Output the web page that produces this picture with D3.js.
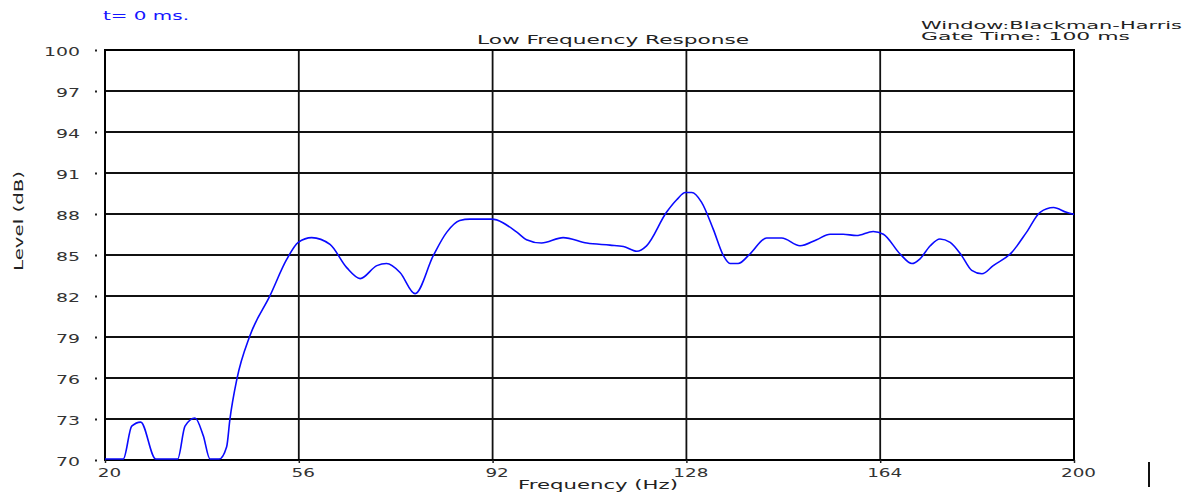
<!DOCTYPE html>
<html>
<head>
<meta charset="utf-8">
<script src="https://cdn.jsdelivr.net/npm/d3@7"></script>
<style>
  body { margin: 0; background: #fff; }
  text { font-family: "DejaVu Sans", sans-serif; }
</style>
</head>
<body>
<div id="chart"></div>
<script>
// frequency (Hz) and level (dB)
var freq = [20, 23.4, 24.96, 26.63, 29.42, 33.5, 34.86, 36.72, 38.26, 39.5, 41.2, 42.6, 43.2, 44.5, 46.9,
  50.65, 53.75, 55.9, 58.4, 61.8, 64.9, 67.4, 70.5, 72.3, 74.8, 77.6, 81.0, 83.5, 85.9, 87.8, 91.8,
  96.5, 98.3, 101.1, 105.1, 109.5, 113.8, 116.3, 118.8, 120.6, 124.3, 126.2, 127.8, 129.0, 130.8,
  133.0, 134.85, 136.1, 137.6, 139.8, 142.9, 145.7, 149.1, 152.2, 154.7, 157.1, 159.6, 162.7, 164.6,
  167.7, 169.9, 171.4, 173.3, 175.1, 177.0, 179.1, 181.0, 182.9, 185.0, 188.4, 191.2, 193.7, 196.2,
  198.6, 200];
var level = [70, 70, 72.4, 72.7, 70, 70, 72.4, 73.0, 71.7, 70, 70, 70.9, 72.9, 75.85, 79.0,
  81.95, 84.6, 85.85, 86.2, 85.7, 84.0, 83.2, 84.15, 84.3, 83.65, 82.1, 84.9, 86.6, 87.45, 87.55, 87.55,
  86.6, 86.05, 85.8, 86.2, 85.8, 85.65, 85.55, 85.2, 85.6, 88.05, 88.97, 89.5, 89.5, 88.8,
  86.8, 84.9, 84.3, 84.3, 85.0, 86.17, 86.17, 85.6, 86.05, 86.45, 86.45, 86.35, 86.65, 86.45,
  85.0, 84.3, 84.65, 85.6, 86.1, 85.85, 84.9, 83.8, 83.55, 84.15, 85.1, 86.6, 88.05, 88.4,
  88.05, 87.9];

var xTicks = [20, 56, 92, 128, 164, 200];
var yTicks = [70, 73, 76, 79, 82, 85, 88, 91, 94, 97, 100];

drawChart();

function drawChart() {
  var width = 1194, height = 496;
  var plotLeft = 105, plotRight = 1074, plotTop = 50, plotBottom = 460;
  var charW = 12; // the original font is very wide

  var svg = d3.select("#chart").append("svg")
    .attr("width", width)
    .attr("height", height);

  var x = d3.scaleLinear().domain([20, 200]).range([plotLeft, plotRight]);
  var y = d3.scaleLinear().domain([70, 100]).range([plotBottom, plotTop]);

  // grid
  svg.append("g")
    .selectAll("line")
    .data(yTicks)
    .enter().append("line")
      .attr("x1", plotLeft).attr("x2", plotRight)
      .attr("y1", function(d){ return y(d); })
      .attr("y2", function(d){ return y(d); })
      .attr("stroke", "#111").attr("stroke-width", 1.8);

  svg.append("g")
    .selectAll("line")
    .data(xTicks)
    .enter().append("line")
      .attr("x1", function(d){ return x(d); })
      .attr("x2", function(d){ return x(d); })
      .attr("y1", plotTop).attr("y2", plotBottom)
      .attr("stroke", "#111").attr("stroke-width", 1.8);

  // frame
  svg.append("rect")
    .attr("x", plotLeft).attr("y", plotTop)
    .attr("width", plotRight - plotLeft).attr("height", plotBottom - plotTop)
    .attr("fill", "none").attr("stroke", "#000").attr("stroke-width", 2);

  // y axis: small dot ticks and wide labels
  var yAxis = svg.append("g")
    .attr("transform", "translate(97,0)")
    .call(d3.axisLeft(y).tickValues(yTicks).tickSize(2).tickPadding(15));
  yAxis.select(".domain").remove();
  yAxis.selectAll(".tick line").attr("stroke", "#222").attr("stroke-width", 2);
  yAxis.selectAll(".tick text")
    .attr("font-size", 13)
    .attr("fill", "#333")
    .attr("dy", "0.4em")
    .attr("textLength", function(d){ return String(d).length * charW; })
    .attr("lengthAdjust", "spacingAndGlyphs");

  // x axis
  var xAxis = svg.append("g")
    .attr("transform", "translate(0," + plotBottom + ")")
    .call(d3.axisBottom(x).tickValues(xTicks).tickSize(3).tickPadding(0));
  xAxis.select(".domain").remove();
  xAxis.selectAll(".tick line").attr("stroke", "#222").attr("stroke-width", 1.5);
  xAxis.selectAll(".tick text")
    .attr("font-size", 13)
    .attr("fill", "#333")
    .attr("y", 17).attr("dy", 0).attr("dx", 4)
    .attr("textLength", function(d){ return String(d).length * 11.7; })
    .attr("lengthAdjust", "spacingAndGlyphs");

  // response trace, drawn over the grid
  var pts = d3.zip(freq, level);
  svg.append("path")
    .datum(pts)
    .attr("fill", "none")
    .attr("stroke", "#0a0aff")
    .attr("stroke-width", 1.6)
    .attr("transform", "translate(0,-1)")
    .attr("d", d3.line()
      .x(function(d){ return x(d[0]); })
      .y(function(d){ return y(d[1]); })
      .curve(d3.curveMonotoneX));

  // labels
  function label(txt, px, py, len, opts) {
    opts = opts || {};
    return svg.append("text")
      .attr("x", px).attr("y", py)
      .attr("font-size", opts.size || 13)
      .attr("fill", opts.fill || "#222")
      .attr("text-anchor", opts.anchor || "start")
      .attr("textLength", len)
      .attr("lengthAdjust", "spacingAndGlyphs")
      .text(txt);
  }

  label("Low Frequency Response", 477, 44, 272);
  label("Frequency (Hz)", 518, 489, 160);
  label("t= 0 ms.", 103, 19.5, 86, { fill: "#1515ff" });
  label("Window:Blackman-Harris", 921, 29, 261, { size: 11 });
  label("Gate Time: 100 ms", 921, 40, 209, { size: 11 });

  svg.append("text")
    .attr("transform", "translate(23,221) rotate(-90)")
    .attr("font-size", 12)
    .attr("fill", "#222")
    .attr("text-anchor", "middle")
    .attr("textLength", 100)
    .attr("lengthAdjust", "spacingAndGlyphs")
    .text("Level (dB)");

  // cursor bar at lower right
  svg.append("line")
    .attr("x1", 1149).attr("x2", 1149)
    .attr("y1", 462).attr("y2", 487)
    .attr("stroke", "#111").attr("stroke-width", 2);
}
</script>
</body>
</html>
